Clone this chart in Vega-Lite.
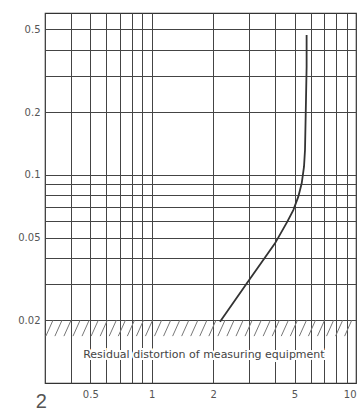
{
  "$schema": "https://vega.github.io/schema/vega-lite/v6.json",
  "width": 311,
  "height": 370,
  "autosize": "none",
  "padding": {"left": 45, "top": 13, "right": 5, "bottom": 32},
  "background": "white",
  "config": {"view": {"stroke": "#333", "strokeWidth": 1.2}},
  "title": {"text": "2", "orient": "bottom", "anchor": "start", "fontSize": 20, "fontWeight": "normal", "color": "#555", "font": "Liberation Sans", "offset": -7, "dx": 18},
  "datasets": {
    "curve": [
      {"x": 2.158, "y": 0.0197},
      {"x": 2.916, "y": 0.0301},
      {"x": 4.012, "y": 0.0469},
      {"x": 4.61, "y": 0.0596},
      {"x": 4.932, "y": 0.0678},
      {"x": 5.218, "y": 0.0786},
      {"x": 5.422, "y": 0.0911},
      {"x": 5.564, "y": 0.1095},
      {"x": 5.627, "y": 0.1317},
      {"x": 5.69, "y": 0.229},
      {"x": 5.73, "y": 0.331},
      {"x": 5.73, "y": 0.47}
    ],
    "hatch": [
      {"x": 0.303, "x2": 0.328},
      {"x": 0.3354, "x2": 0.3632},
      {"x": 0.3714, "x2": 0.4022},
      {"x": 0.4113, "x2": 0.4454},
      {"x": 0.4555, "x2": 0.4933},
      {"x": 0.5047, "x2": 0.5466},
      {"x": 0.5589, "x2": 0.6053},
      {"x": 0.6188, "x2": 0.6702},
      {"x": 0.6855, "x2": 0.7424},
      {"x": 0.7591, "x2": 0.8221},
      {"x": 0.8408, "x2": 0.9106},
      {"x": 0.9311, "x2": 1.0084},
      {"x": 1.031, "x2": 1.1166},
      {"x": 1.142, "x2": 1.2368},
      {"x": 1.265, "x2": 1.37},
      {"x": 1.401, "x2": 1.5173},
      {"x": 1.551, "x2": 1.6797},
      {"x": 1.718, "x2": 1.8606},
      {"x": 1.903, "x2": 2.061},
      {"x": 2.107, "x2": 2.2819},
      {"x": 2.333, "x2": 2.5266},
      {"x": 2.585, "x2": 2.7996},
      {"x": 2.862, "x2": 3.0995},
      {"x": 3.17, "x2": 3.4331},
      {"x": 3.511, "x2": 3.8024},
      {"x": 3.888, "x2": 4.2107},
      {"x": 4.305, "x2": 4.6623},
      {"x": 4.768, "x2": 5.1637},
      {"x": 5.28, "x2": 5.7182},
      {"x": 5.847, "x2": 6.3323},
      {"x": 6.476, "x2": 7.0135},
      {"x": 7.171, "x2": 7.7662},
      {"x": 7.942, "x2": 8.6012},
      {"x": 8.796, "x2": 9.5261}
    ],
    "note": [
      {"x": 1.8, "y": 0.0136, "label": "Residual distortion of measuring equipment"}
    ]
  },
  "layer": [
    {
      "data": {"name": "hatch"},
      "mark": {"type": "rule", "color": "#777", "strokeWidth": 1},
      "encoding": {
        "x": {
          "field": "x", "type": "quantitative",
          "scale": {"type": "log", "domain": [0.3, 10], "nice": false},
          "axis": {
            "values": [0.3, 0.4, 0.5, 0.6, 0.7, 0.8, 0.9, 1, 2, 3, 4, 5, 6, 7, 8, 9, 10],
            "format": "~g",
            "labelExpr": "indexof([0.5,1,2,5,10], datum.value) >= 0 ? datum.label : ''",
            "ticks": false, "domain": false, "grid": true,
            "gridColor": "#444", "gridWidth": 1,
            "labelFontSize": 10, "labelColor": "#555", "labelFont": "DejaVu Sans",
            "labelPadding": 6, "labelOverlap": false, "labelFlush": true,
            "title": null
          }
        },
        "x2": {"field": "x2"},
        "y": {
          "datum": 0.0168, "type": "quantitative",
          "scale": {"type": "log", "domain": [0.01, 0.6], "nice": false},
          "axis": {
            "values": [0.02, 0.03, 0.04, 0.05, 0.06, 0.07, 0.08, 0.09, 0.1, 0.2, 0.3, 0.4, 0.5],
            "format": "~g",
            "labelExpr": "indexof([0.02,0.05,0.1,0.2,0.5], datum.value) >= 0 ? datum.label : ''",
            "ticks": false, "domain": false, "grid": true,
            "gridColor": "#444", "gridWidth": 1,
            "labelFontSize": 10, "labelColor": "#555", "labelFont": "DejaVu Sans",
            "labelPadding": 5, "labelOverlap": false, "labelFlush": false,
            "title": null
          }
        },
        "y2": {"datum": 0.02}
      }
    },
    {
      "data": {"name": "curve"},
      "mark": {"type": "line", "color": "#333", "strokeWidth": 1.8, "interpolate": "linear"},
      "encoding": {
        "x": {"field": "x", "type": "quantitative"},
        "y": {"field": "y", "type": "quantitative"},
        "order": {"field": "y", "type": "quantitative"}
      }
    },
    {
      "data": {"name": "note"},
      "mark": {"type": "text", "font": "DejaVu Sans", "fontSize": 11, "color": "white", "stroke": "white", "strokeWidth": 4, "align": "center", "baseline": "middle"},
      "encoding": {
        "x": {"field": "x", "type": "quantitative"},
        "y": {"field": "y", "type": "quantitative"},
        "text": {"field": "label"}
      }
    },
    {
      "data": {"name": "note"},
      "mark": {"type": "text", "font": "DejaVu Sans", "fontSize": 11, "color": "#444", "align": "center", "baseline": "middle"},
      "encoding": {
        "x": {"field": "x", "type": "quantitative"},
        "y": {"field": "y", "type": "quantitative"},
        "text": {"field": "label"}
      }
    }
  ]
}
